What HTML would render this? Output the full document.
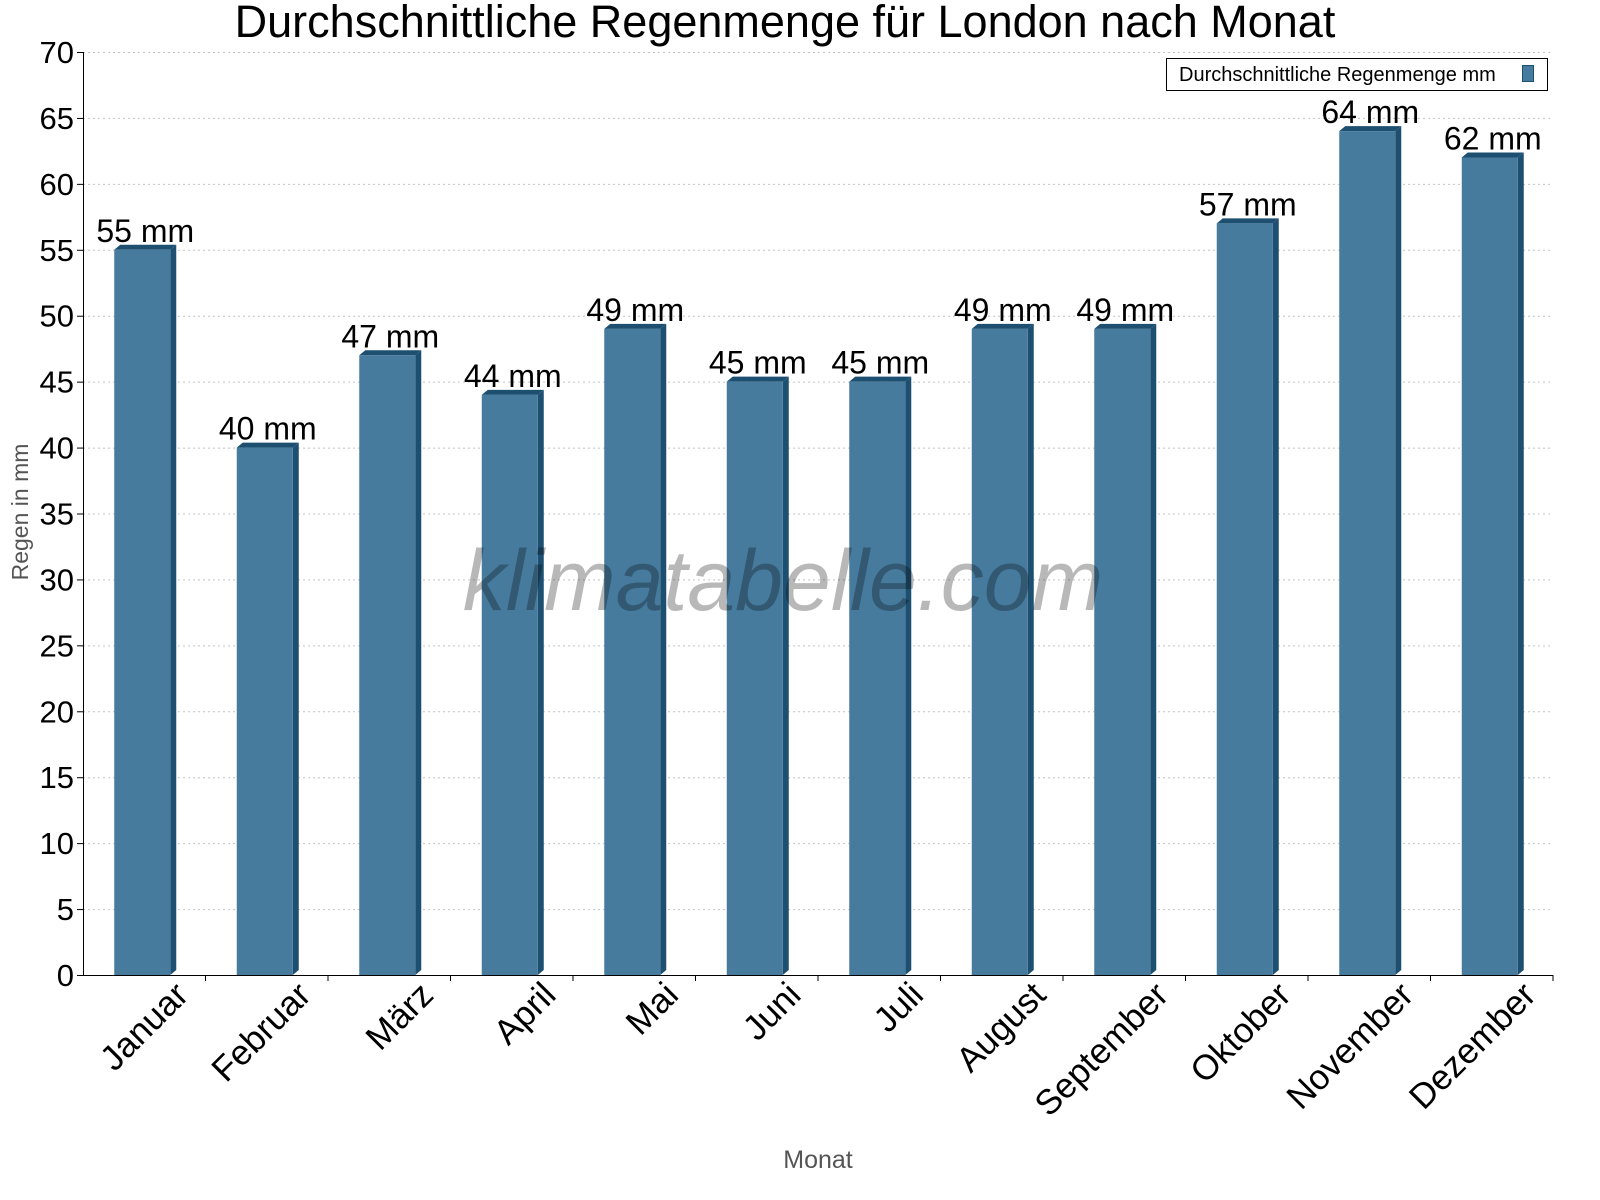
<!DOCTYPE html>
<html><head><meta charset="utf-8"><style>
html,body{margin:0;padding:0;background:#fff;}
svg{display:block;font-family:"Liberation Sans",sans-serif;}
</style></head><body>
<svg id="chart" width="1600" height="1200" viewBox="0 0 1600 1200">
<text x="785" y="37" font-size="45" text-anchor="middle" fill="#000">Durchschnittliche Regenmenge für London nach Monat</text>
<g id="grid"></g>
<g id="bars"></g>
<text x="783" y="610" font-size="86" font-style="italic" text-anchor="middle" fill="rgba(0,0,0,0.28)">klimatabelle.com</text>
<g id="axes"></g>
<text transform="translate(28,512) rotate(-90)" font-size="23" text-anchor="middle" fill="#555">Regen in mm</text>
<text x="818" y="1168" font-size="25" text-anchor="middle" fill="#555">Monat</text>
<g>
<rect x="1166.5" y="58.5" width="381" height="32" fill="#fff" stroke="#000" stroke-width="1"/>
<text x="1179" y="81" font-size="20" fill="#000">Durchschnittliche Regenmenge mm</text>
<rect x="1522.5" y="65.5" width="11" height="16" fill="#467b9e" stroke="#1d4f70"/>
</g>
</svg>
<script>
const categories = ["Januar","Februar","März","April","Mai","Juni","Juli","August","September","Oktober","November","Dezember"];
const values = [55,40,47,44,49,45,45,49,49,57,64,62];
const yTicks = [0,5,10,15,20,25,30,35,40,45,50,55,60,65,70];
const NS="http://www.w3.org/2000/svg";
const X0=83,X1=1553,Y0=975,Y1=52,YMAX=70;
const band=(X1-X0)/categories.length;
function y(v){return Y0-(v/YMAX)*(Y0-Y1);}
function xc(i){return X0+band*(i+0.5);}
function mk(tag,attrs,parent){const e=document.createElementNS(NS,tag);for(const k in attrs)e.setAttribute(k,attrs[k]);parent.appendChild(e);return e;}
const grid=document.getElementById('grid'),bars=document.getElementById('bars'),axes=document.getElementById('axes');
yTicks.forEach(t=>{
  if(t>0){const l=mk('line',{x1:X0,x2:X1,y1:y(t)+0.5,y2:y(t)+0.5,stroke:'#c4c4c4','stroke-dasharray':'2,3'},grid);
  
  }
  const tk=mk('line',{x1:X0-6,x2:X0,y1:y(t)+0.5,y2:y(t)+0.5,stroke:'#000'},axes);
  
  
  const tx=mk('text',{x:X0-9,y:y(t)+11,'font-size':31,'text-anchor':'end',fill:'#000'},axes);
  tx.textContent=t;
  
  
});
const W=56,D=6;
categories.forEach((c,i)=>{
  const v=values[i],cx=xc(i)-2,left=cx-W/2,top=y(v);
  const g=mk('g',{},bars);
  
  
  mk('polygon',{points:`${left+W},${top} ${left+W+D},${top-5} ${left+W+D},${Y0-5} ${left+W},${Y0}`,fill:'#1d4f70'},g);
  mk('polygon',{points:`${left},${top} ${left+D},${top-5} ${left+W+D},${top-5} ${left+W},${top}`,fill:'#1d4f70'},g);
  mk('rect',{x:left,y:top,width:W,height:Y0-top,fill:'#467b9e'},g);
  const lb=mk('text',{x:cx+3,y:top-8,'font-size':32,'text-anchor':'middle',fill:'#000'},bars);
  lb.textContent=v+' mm';
  
  
  const tk=mk('line',{x1:X0+band*(i+1),x2:X0+band*(i+1),y1:Y0,y2:Y0+6,stroke:'#000'},axes);
  
  
  const xl=mk('text',{transform:`translate(${xc(i)+46},${Y0+22}) rotate(-45)`,'font-size':35,'text-anchor':'end',fill:'#000'},axes);
  xl.textContent=c;
  
  
});
const ax=mk('line',{x1:X0+0.5,x2:X0+0.5,y1:Y1,y2:Y0,stroke:'#000'},axes);


const bx=mk('line',{x1:X0,x2:X1,y1:Y0+0.5,y2:Y0+0.5,stroke:'#000'},axes);


</script>
</body></html>
